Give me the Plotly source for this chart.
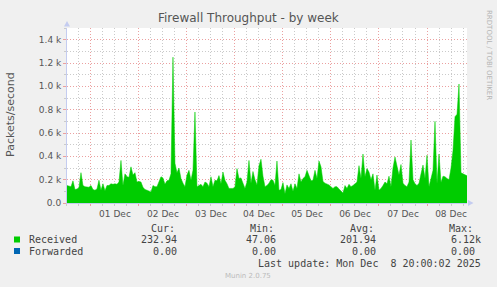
import plotly.graph_objects as go
import pandas as pd

# ---------------- data ----------------
start_time = "2025-11-30 12:00"
end_time = "2025-12-08 20:00"
received = [
    150, 145, 140, 190, 115, 120, 130, 260, 150, 140,
    138, 135, 150, 115, 110, 120, 195, 110, 165, 105,
    150, 150, 165, 160, 165, 160, 180, 365, 150, 250,
    225, 220, 310, 240, 260, 180, 185, 180, 135, 115,
    110, 105, 95, 150, 140, 140, 180, 225, 215, 160,
    190, 195, 250, 1250, 340, 260, 300, 210, 170, 140,
    240, 280, 195, 280, 780, 140, 150, 160, 140, 180,
    170, 140, 225, 140, 195, 190, 235, 165, 265, 195,
    165, 125, 125, 125, 138, 295, 210, 215, 170, 125,
    180, 365, 170, 270, 200, 155, 320, 375, 230, 140,
    150, 170, 200, 195, 150, 360, 110, 115, 175, 80,
    155, 125, 165, 100, 165, 125, 250, 180, 210, 225,
    280, 230, 190, 195, 280, 210, 360, 310, 185, 170,
    165, 155, 140, 125, 140, 140, 120, 100, 85, 150,
    125, 160, 140, 150, 165, 180, 320, 210, 420, 225,
    295, 265, 200, 250, 110, 240, 110, 125, 150, 180,
    165, 230, 140, 300, 395, 325, 240, 330, 170, 150,
    140, 180, 540, 200, 165, 150, 170, 250, 325, 210,
    410, 140, 200, 280, 700, 165, 420, 175, 230, 225,
    210, 200, 300, 450, 740, 760, 1020, 260, 250, 240,
    233,
]
y_tick_values = [0, 200, 400, 600, 800, 1000, 1200, 1400]
y_tick_labels = ["0.0", "0.2 k", "0.4 k", "0.6 k", "0.8 k", "1.0 k", "1.2 k", "1.4 k"]
y_max = 1500

series_names = ["Received", "Forwarded"]
series_colors = ["#00CC00", "#0066B3"]
stat_headers = ["Cur:", "Min:", "Avg:", "Max:"]
received_stats = ["232.94", "47.06", "201.94", "6.12k"]
forwarded_stats = ["0.00", "0.00", "0.00", "0.00"]
last_update = "Last update: Mon Dec \u00a08 20:00:02 2025"

times = pd.date_range(start_time, periods=len(received), freq="h")

# ---------------- geometry helpers (pixels -> paper) ----------------
W, H = 497, 287
L, R, T, B = 67, 467, 28, 203


def px(x):
    return (x - L) / (R - L)


def py(y):
    return (B - y) / (B - T)


fig = go.Figure()
fig.add_trace(go.Scatter(
    x=times, y=received, mode="lines", fill="tozeroy",
    line=dict(color=series_colors[0], width=0.5),
    fillcolor=series_colors[0], hoverinfo="skip", showlegend=False,
))

MAJOR = "#EBA0A0"
MINOR = "#CACACA"
AXIS = "#C4CCF0"
DOTS = "1px,2px"

fig.update_layout(
    width=W, height=H,
    margin=dict(l=L, r=W - R, t=T, b=H - B),
    paper_bgcolor="#F0F0F0",
    plot_bgcolor="#FFFFFF",
    showlegend=False,
    font=dict(family="DejaVu Sans", color="#555555", size=9),
    xaxis=dict(
        type="date",
        range=["2025-11-30 12:01", end_time],
        dtick=86400000, tick0="2025-11-30 00:00",
        tickformat="%d %b", ticklabelmode="period",
        showgrid=True, gridcolor=MAJOR, griddash=DOTS, gridwidth=1,
        minor=dict(dtick=21600000, tick0="2025-11-30 00:00", showgrid=True,
                   gridcolor=MINOR, griddash=DOTS, gridwidth=1,
                   ticks="outside", ticklen=2, tickcolor=MINOR),
        ticks="outside", ticklen=2, tickcolor=MAJOR,
        showline=True, linecolor=AXIS, linewidth=1,
        zeroline=False, fixedrange=True,
        tickfont=dict(size=9, color="#555555"),
    ),
    yaxis=dict(
        range=[0, y_max],
        tickmode="array", tickvals=y_tick_values, ticktext=y_tick_labels,
        showgrid=True, gridcolor=MAJOR, griddash=DOTS, gridwidth=1,
        minor=dict(dtick=100, tick0=0, showgrid=True, gridcolor=MINOR,
                   griddash=DOTS, gridwidth=1,
                   ticks="outside", ticklen=2, tickcolor=MINOR),
        ticks="outside", ticklen=3, tickcolor=MAJOR,
        showline=True, linecolor=AXIS, linewidth=1,
        zeroline=False, fixedrange=True,
        tickfont=dict(size=9, color="#555555"),
    ),
)

# axis arrows
fig.add_shape(type="path", xref="paper", yref="paper",
              path=f"M {px(64)} {py(26.5)} L {px(70)} {py(26.5)} L {px(67)} {py(21)} Z",
              fillcolor=AXIS, line=dict(width=0))
fig.add_shape(type="path", xref="paper", yref="paper",
              path=f"M {px(468)} {py(200)} L {px(468)} {py(206)} L {px(473.5)} {py(203)} Z",
              fillcolor=AXIS, line=dict(width=0))

ann = []


def text(x, y, s, size, color, family="DejaVu Sans", xanchor="center", angle=0):
    ann.append(dict(x=px(x), y=py(y), xref="paper", yref="paper", text=s,
                    showarrow=False, xanchor=xanchor, yanchor="middle",
                    textangle=angle, font=dict(family=family, size=size, color=color)))


text(248.5, 18, "Firewall Throughput - by week", 12, "#555555")
text(10, 115, "Packets/second", 11, "#555555", angle=-90)
text(489, 55, "RRDTOOL / TOBI OETIKER", 7, "#B4B4B4", angle=90)

MONO = "DejaVu Sans Mono"
LEG = "#444444"
header_left = [149, 248, 348, 447]
value_right = [179, 278, 378, 477]
for hx, h in zip(header_left, stat_headers):
    text(hx, 228, h, 10, LEG, MONO, "left")

rows_y = [239.5, 251]
stats_rows = [received_stats, forwarded_stats]
for name, color, yy, stats in zip(series_names, series_colors, rows_y, stats_rows):
    fig.add_shape(type="rect", xref="paper", yref="paper",
                  x0=px(14), x1=px(20), y0=py(yy + 3), y1=py(yy - 3),
                  fillcolor=color, line=dict(width=0))
    text(26.5, yy, name, 10, LEG, MONO, "left")
    for vx, v in zip(value_right, stats):
        if v.endswith("k"):
            text(vx + 6, yy, v, 10, LEG, MONO, "right")
        else:
            text(vx, yy, v, 10, LEG, MONO, "right")

text(483, 263.5, last_update, 10, LEG, MONO, "right")
text(248, 276, "Munin 2.0.75", 7, "#BBBBBB")

fig.update_layout(annotations=ann)
fig.write_html("out.html")
